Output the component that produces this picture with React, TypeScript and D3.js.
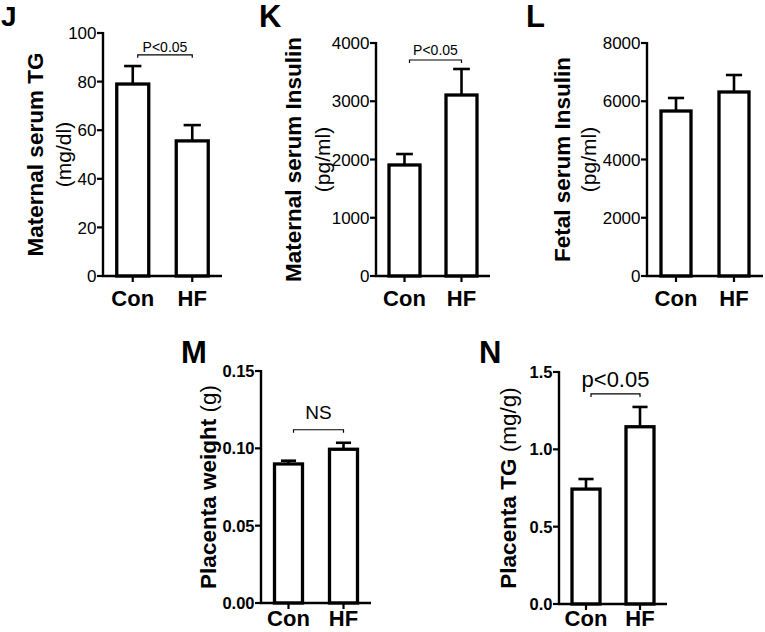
import React from "react";
import * as d3 from "d3";

const groups = ["Con", "HF"];

const maternalTGMean = [79, 55.6];
const maternalTGErr = [7.4, 6.5];
const maternalTGTicks = [0, 20, 40, 60, 80, 100];

const maternalInsulinMean = [1906, 3107];
const maternalInsulinErr = [188, 447];
const maternalInsulinTicks = [0, 1000, 2000, 3000, 4000];

const fetalInsulinMean = [5665, 6318];
const fetalInsulinErr = [447, 583];
const fetalInsulinTicks = [0, 2000, 4000, 6000, 8000];

const placentaWeightMean = [0.0899, 0.0994];
const placentaWeightErr = [0.0021, 0.0042];
const placentaWeightTicks = ["0.00", "0.05", "0.10", "0.15"];

const placentaTGMean = [0.743, 1.146];
const placentaTGErr = [0.065, 0.128];
const placentaTGTicks = ["0.0", "0.5", "1.0", "1.5"];

const FONT = "Arial, 'Liberation Sans', Helvetica, sans-serif";

type PanelProps = {
  letter: string;
  letterX: number;
  letterY: number;
  letterSize: number;
  axisX: number;
  xEnd: number;
  yTop: number;
  yBottom: number;
  yMax: number;
  ticks: (number | string)[];
  means: number[];
  errs: number[];
  barW: number;
  tickBold: boolean;
  tickSize: number;
  title: React.ReactNode;
  titleX: number;
  subtitle?: string;
  subtitleX?: number;
  sig: string;
  sigY: number;
  sigSize: number;
  sigGap: number;
  labelY: number;
};

function Panel(p: PanelProps) {
  const y = d3.scaleLinear().domain([0, p.yMax]).range([p.yBottom, p.yTop]);
  const x = d3.scalePoint<string>().domain(groups).range([p.axisX, p.xEnd]).padding(0.5);
  const cy = (p.yTop + p.yBottom) / 2;
  const bx0 = (x("Con") as number) + 5;
  const bx1 = x("HF") as number;
  const by = y(p.sigY);
  return (
    <g fontFamily={FONT}>
      <text x={p.letterX} y={p.letterY} fontSize={p.letterSize} fontWeight="bold">{p.letter}</text>
      <text transform={`translate(${p.titleX},${cy}) rotate(-90)`} textAnchor="middle" dominantBaseline="central" fontSize={22.5}>
        {p.title}
      </text>
      {p.subtitle && (
        <text transform={`translate(${p.subtitleX},${cy}) rotate(-90)`} textAnchor="middle" dominantBaseline="central" fontSize={21}>
          {p.subtitle}
        </text>
      )}
      {groups.map((g, i) => {
        const cx = x(g) as number;
        const top = y(p.means[i]);
        const et = y(p.means[i] + p.errs[i]);
        return (
          <g key={g}>
            <line x1={cx} x2={cx} y1={top} y2={et} stroke="#000" strokeWidth={2.6} />
            <line x1={cx - p.barW * 0.27} x2={cx + p.barW * 0.27} y1={et} y2={et} stroke="#000" strokeWidth={2.6} />
            <rect x={cx - p.barW / 2} y={top} width={p.barW} height={p.yBottom - top} fill="#fff" stroke="#000" strokeWidth={3.3} />
          </g>
        );
      })}
      <line x1={p.axisX} x2={p.axisX} y1={p.yTop - 1} y2={p.yBottom} stroke="#000" strokeWidth={2.4} />
      {p.ticks.map((t) => {
        const ty = y(+t);
        return (
          <g key={String(t)}>
            <line x1={p.axisX - 6} x2={p.axisX} y1={ty} y2={ty} stroke="#000" strokeWidth={2.2} />
            <text x={p.axisX - 6.5} y={ty} dy="0.36em" textAnchor="end" fontSize={p.tickSize} fontWeight={p.tickBold ? "bold" : "normal"}>
              {String(t)}
            </text>
          </g>
        );
      })}
      <line x1={p.axisX - 1} x2={p.xEnd} y1={p.yBottom} y2={p.yBottom} stroke="#000" strokeWidth={2.4} />
      {groups.map((g) => (
        <g key={g}>
          <line x1={x(g) as number} x2={x(g) as number} y1={p.yBottom} y2={p.yBottom + 6} stroke="#000" strokeWidth={2.2} />
          <text x={x(g) as number} y={p.labelY} textAnchor="middle" fontSize={22} fontWeight="bold">{g}</text>
        </g>
      ))}
      {p.sig && (
        <>
          <path d={`M${bx0},${by + 3}V${by}H${bx1}V${by + 3}`} fill="none" stroke="#000" strokeWidth={1.2} />
          <text x={(bx0 + bx1) / 2} y={by - p.sigGap} textAnchor="middle" fontSize={p.sigSize}>{p.sig}</text>
        </>
      )}
    </g>
  );
}

export default function App() {
  return (
    <svg width={765} height={632} style={{ position: "absolute", left: 0, top: 0, background: "#fff" }}>
      <rect width={765} height={632} fill="#fff" />
      <Panel
        letter="J" letterX={1} letterY={25.5} letterSize={28}
        axisX={103} xEnd={222} yTop={33} yBottom={276} yMax={100}
        ticks={maternalTGTicks} means={maternalTGMean} errs={maternalTGErr} barW={32}
        tickBold={false} tickSize={17}
        title={<tspan fontWeight="bold">Maternal serum TG</tspan>} titleX={35}
        subtitle="(mg/dl)" subtitleX={63}
        sig="P<0.05" sigY={91} sigSize={14} sigGap={3} labelY={306}
      />
      <Panel
        letter="K" letterX={259} letterY={27} letterSize={31}
        axisX={376} xEnd={490} yTop={43} yBottom={276} yMax={4000}
        ticks={maternalInsulinTicks} means={maternalInsulinMean} errs={maternalInsulinErr} barW={31}
        tickBold={false} tickSize={17}
        title={<tspan fontWeight="bold">Maternal serum Insulin</tspan>} titleX={293}
        subtitle="(pg/ml)" subtitleX={322}
        sig="P<0.05" sigY={3708} sigSize={14} sigGap={5} labelY={306}
      />
      <Panel
        letter="L" letterX={526} letterY={27} letterSize={31}
        axisX={647} xEnd={763} yTop={43} yBottom={276} yMax={8000}
        ticks={fetalInsulinTicks} means={fetalInsulinMean} errs={fetalInsulinErr} barW={30}
        tickBold={false} tickSize={17}
        title={<tspan fontWeight="bold">Fetal serum Insulin</tspan>} titleX={562}
        subtitle="(pg/ml)" subtitleX={588}
        sig="" sigY={0} sigSize={14} sigGap={5} labelY={306}
      />
      <Panel
        letter="M" letterX={181} letterY={363} letterSize={31}
        axisX={261} xEnd={371} yTop={371} yBottom={603} yMax={0.15}
        ticks={placentaWeightTicks} means={placentaWeightMean} errs={placentaWeightErr} barW={28}
        tickBold={true} tickSize={16.5}
        title={<><tspan fontWeight="bold">Placenta weight</tspan><tspan> (g)</tspan></>} titleX={208}
        sig="NS" sigY={0.112} sigSize={19} sigGap={11} labelY={626}
      />
      <Panel
        letter="N" letterX={479} letterY={363} letterSize={31}
        axisX={559} xEnd={667} yTop={372} yBottom={604} yMax={1.5}
        ticks={placentaTGTicks} means={placentaTGMean} errs={placentaTGErr} barW={28}
        tickBold={true} tickSize={16.5}
        title={<><tspan fontWeight="bold">Placenta TG</tspan><tspan> (mg/g)</tspan></>} titleX={508}
        sig="p<0.05" sigY={1.358} sigSize={22} sigGap={7} labelY={626}
      />
    </svg>
  );
}
